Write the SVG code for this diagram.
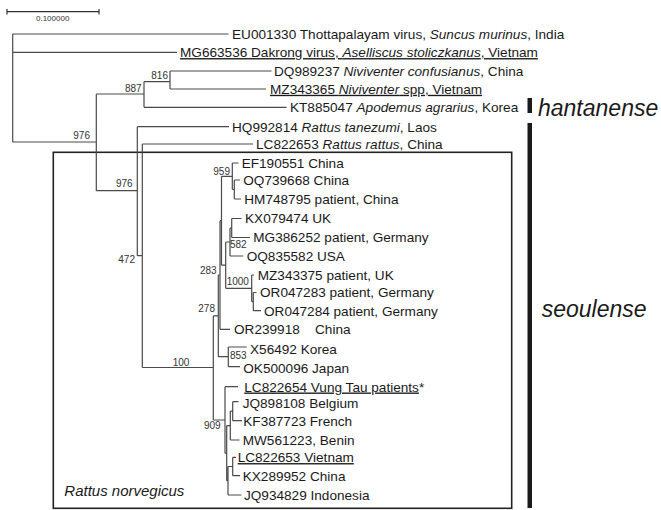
<svg xmlns="http://www.w3.org/2000/svg" width="661" height="510" viewBox="0 0 661 510">
<style>
.br{fill:none;stroke:#4a4a4a;stroke-width:1.2}
.lf{font-family:"Liberation Sans",Arial,sans-serif;font-size:13.6px;fill:#1a1a1a}
.bs{font-family:"Liberation Sans",Arial,sans-serif;font-size:10px;fill:#333}
.u{text-decoration:underline}
.i{font-style:italic}
.big{font-family:"Liberation Sans",Arial,sans-serif;font-size:23px;font-style:italic;fill:#1a1a1a}
</style>
<rect width="661" height="510" fill="#fff"/>
<g id="scalebar">
<path d="M7 11.7H99M7 9V14.5M99 9V14.5" fill="none" stroke="#333" stroke-width="1.2"/>
<text x="36" y="21" style="font-family:'Liberation Sans',Arial,sans-serif;font-size:8px;fill:#333">0.100000</text>
</g>
<g id="box">
<rect x="53.3" y="152.3" width="458.4" height="356" fill="none" stroke="#222" stroke-width="1.6"/>
<text x="64.3" y="495.5" class="i" style="font-family:'Liberation Sans',Arial,sans-serif;font-size:15px;fill:#1a1a1a">Rattus norvegicus</text>
</g>
<g id="connectors" class="br">
<path d="M12.7 34V142M12.7 34H228.5M12.7 52.3H177M12.7 142H96.3M96.3 94V190.7M96.3 94H144M144 81.7V107.3M144 81.7H170M170 71V89M170 71H271.5M170 89H266M144 107.3H286.5M96.3 190.7H137.3M137.3 126.7V255.7M137.3 126.7H229M137.3 255.7H142.3M142.3 144V367.5M142.3 144H253M142.3 367.5H213.3"/>
<path d="M213.3 315.8V420M213.3 315.8H218.3M218.3 275V356.7M218.3 275H220M220 220.7V329.3M220 329.3H230M220 220.7H221.5M221.5 176.3V265.2M221.5 176.3H232.3M232.3 163V189.5M232.3 163H238.5M232.3 189.5H234.3M234.3 180V199M234.3 180H240M234.3 199H241M221.5 265.2H225.7M225.7 242V288.3M225.7 242H230M230 228V256M230 228H231.7M231.7 218.5V237.5M231.7 218.5H241.5M231.7 237.5H250M230 256H243.3M225.7 288.3H251.7M251.7 275V301.6M251.7 275H254M251.7 301.6H253.3M253.3 292.5V310.7M253.3 292.5H256.5M253.3 310.7H261M218.3 356.7H228.3M228.3 347V366.7M228.3 347H246.7M228.3 366.7H240"/>
<path d="M213.3 420H225M225 386.7V453.2M225 386.7H238M225 453.2H226.7M226.7 425.6V480.7M226.7 425.6H230.3M230.3 411.2V440M230.3 411.2H232.7M232.7 401.7V420.7M232.7 401.7H238.5M232.7 420.7H242M230.3 440H239.5M226.7 480.7H228M228 466.5V495M228 466.5H232.7M232.7 457.3V475.7M232.7 457.3H236M232.7 475.7H240M228 495H241.5"/>
</g>
<g id="bootstrap" class="bs">
<text x="168" y="78.6" text-anchor="end">816</text>
<text x="141.7" y="92" text-anchor="end">887</text>
<text x="90" y="138.6" text-anchor="end">976</text>
<text x="132.7" y="187" text-anchor="end">976</text>
<text x="135" y="263" text-anchor="end">472</text>
<text x="172.7" y="365.5">100</text>
<text x="230" y="175.3" text-anchor="end">959</text>
<text x="230" y="247.6">582</text>
<text x="216.7" y="274.3" text-anchor="end">283</text>
<text x="226.7" y="285.3">1000</text>
<text x="215" y="311.9" text-anchor="end">278</text>
<text x="230" y="359.3">853</text>
<text x="220.7" y="429.3" text-anchor="end">909</text>
</g>
<g id="EU001330"><text class="lf" x="232" y="38.8">EU001330 Thottapalayam virus, <tspan class="i">Suncus murinus</tspan>, India</text></g>
<g id="MG663536"><text class="lf u" x="180" y="57.1">MG663536 Dakrong virus, <tspan class="i">Aselliscus stoliczkanus</tspan>, Vietnam</text></g>
<g id="DQ989237"><text class="lf" x="274" y="75.8">DQ989237 <tspan class="i">Niviventer confusianus</tspan>, China</text></g>
<g id="MZ343365"><text class="lf u" x="270" y="93.8">MZ343365 <tspan class="i">Niviventer</tspan> spp, Vietnam</text></g>
<g id="KT885047"><text class="lf" x="290" y="112.1">KT885047 <tspan class="i">Apodemus agrarius</tspan>, Korea</text></g>
<g id="HQ992814"><text class="lf" x="232" y="131.5">HQ992814 <tspan class="i">Rattus tanezumi</tspan>, Laos</text></g>
<g id="LC822653R"><text class="lf" x="256" y="148.8">LC822653 <tspan class="i">Rattus rattus</tspan>, China</text></g>
<g id="EF190551"><text class="lf" x="241.7" y="167.9">EF190551 China</text></g>
<g id="OQ739668"><text class="lf" x="243.3" y="184.9">OQ739668 China</text></g>
<g id="HM748795"><text class="lf" x="244.3" y="203.8">HM748795 patient, China</text></g>
<g id="KX079474"><text class="lf" x="245" y="223.3">KX079474 UK</text></g>
<g id="MG386252"><text class="lf" x="253.3" y="242.3">MG386252 patient, Germany</text></g>
<g id="OQ835582"><text class="lf" x="246.7" y="260.8">OQ835582 USA</text></g>
<g id="MZ343375"><text class="lf" x="257.7" y="279.8">MZ343375 patient, UK</text></g>
<g id="OR047283"><text class="lf" x="260" y="297.3">OR047283 patient, Germany</text></g>
<g id="OR047284"><text class="lf" x="264" y="315.5">OR047284 patient, Germany</text></g>
<g id="OR239918"><text class="lf" x="234" y="334.1">OR239918<tspan x="315">China</tspan></text></g>
<g id="X56492"><text class="lf" x="250" y="353.8">X56492 Korea</text></g>
<g id="OK500096"><text class="lf" x="243.3" y="372.8">OK500096 Japan</text></g>
<g id="LC822654"><text class="lf" x="244.3" y="391.5"><tspan class="u">LC822654 Vung Tau patients</tspan>*</text></g>
<g id="JQ898108"><text class="lf" x="242.7" y="407.5">JQ898108 Belgium</text></g>
<g id="KF387723"><text class="lf" x="243.3" y="425.5">KF387723 French</text></g>
<g id="MW561223"><text class="lf" x="242.7" y="444.8">MW561223, Benin</text></g>
<g id="LC822653V"><text class="lf u" x="237.7" y="462.1">LC822653 Vietnam</text></g>
<g id="KX289952"><text class="lf" x="242.7" y="480.5">KX289952 China</text></g>
<g id="JQ934829"><text class="lf" x="244" y="499.8">JQ934829 Indonesia</text></g>
<g id="hantanense">
<rect x="527.5" y="98" width="4.5" height="15" fill="#1a1a1a"/>
<text class="big" x="538" y="115.5">hantanense</text>
</g>
<g id="seoulense">
<rect x="527.5" y="123" width="4.5" height="385" fill="#1a1a1a"/>
<text class="big" x="541.7" y="316.7">seoulense</text>
</g>
</svg>
